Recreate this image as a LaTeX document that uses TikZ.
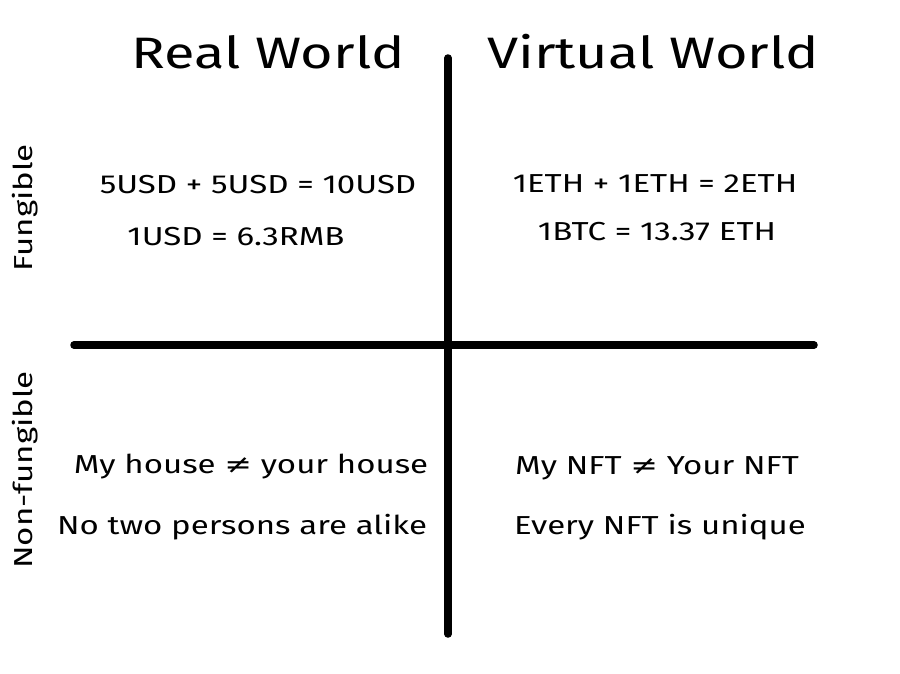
\documentclass[tikz,border=0pt]{standalone}
\usepackage{fontspec}
\setmainfont{Fira Sans}
\newfontfamily\symfont{DejaVu Sans}
\newcommand{\wide}[1]{\scalebox{1.27}[1]{#1}}
\begin{document}
\begin{tikzpicture}[x=1pt,y=-1pt,
  axis/.style={line width=7.5pt,line cap=round,black},
  title/.style={font=\fontsize{44}{48}\selectfont,anchor=center},
  side/.style={font=\fontsize{26}{30}\selectfont,rotate=90,anchor=center},
  cell/.style={font=\fontsize{26}{30}\selectfont,anchor=center}]
\useasboundingbox (0,0) rectangle (900,674);
\coordinate (vtop) at (448,58);
\coordinate (vbot) at (448,634);
\coordinate (hl) at (74,345);
\coordinate (hr) at (814,345);
\draw[axis] (vtop) -- (vbot);
\draw[axis] (hl) -- (hr);
\node[title] (rw) at (268,52) {\wide{Real World}};
\node[title] (vw) at (653,52) {\wide{Virtual World}};
\node[side] (fu) at (25,208) {\wide{Fungible}};
\node[side] (nf) at (25,470) {\wide{Non-fungible}};
\node[cell] (a1) at (258,185) {\wide{5USD + 5USD = 10USD}};
\node[cell] (a2) at (236,237) {\wide{1USD = 6.3RMB}};
\node[cell] (b1) at (655,184) {\wide{1ETH + 1ETH = 2ETH}};
\node[cell] (b2) at (657,232) {\wide{1BTC = 13.37 ETH}};
\node[cell] (c1) at (251,467) {\wide{My house {\symfont ≠} your house}};
\node[cell] (c2) at (242,527) {\wide{No two persons are alike}};
\node[cell] (d1) at (657,468) {\wide{My NFT {\symfont ≠} Your NFT}};
\node[cell] (d2) at (660,527) {\wide{Every NFT is unique}};
\end{tikzpicture}
\end{document}
